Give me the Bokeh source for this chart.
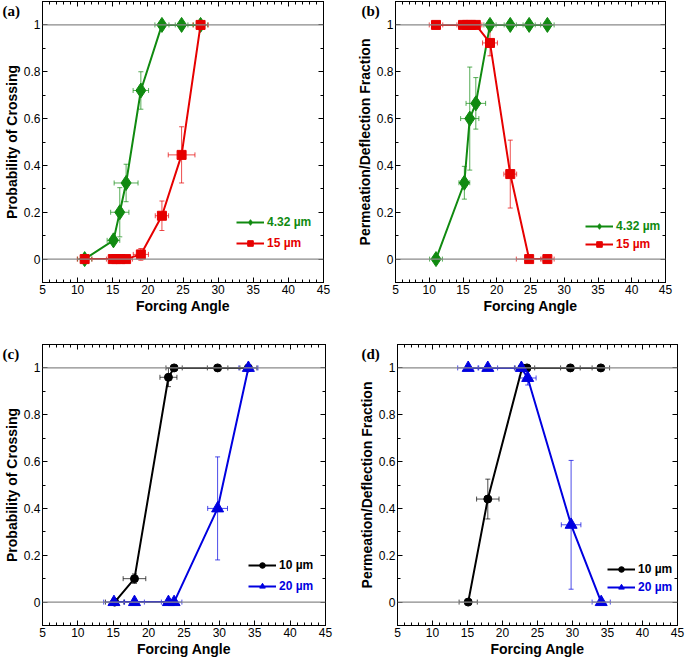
from bokeh.plotting import figure
from bokeh.models import (ColumnDataSource, Whisker, TeeHead, Span, Label, Legend,
                          LegendItem, LinearAxis, FixedTicker, Range1d)
from bokeh.layouts import column, row
from bokeh.embed import file_html
from bokeh.resources import INLINE

# ---------------- data ----------------
X_RANGE = (5, 45)
Y_RANGE = (-0.1, 1.1)
X_TICKS = [5, 10, 15, 20, 25, 30, 35, 40, 45]
X_MINOR = list(range(5, 46))
Y_TICKS = [0, 0.2, 0.4, 0.6, 0.8, 1]
Y_TICK_LABELS = ["0", "0.2", "0.4", "0.6", "0.8", "1"]
Y_MINOR = [-0.1, 0, 0.1, 0.2, 0.3, 0.4, 0.5, 0.6, 0.7, 0.8, 0.9, 1.0, 1.1]
REF_LINES = [0, 1]
X_LABEL = "Forcing Angle"

# panel (a) Probability of Crossing
a_green_x = [11.0, 15.1, 16.0, 16.9, 19.0, 22.0, 24.8, 27.5]
a_green_y = [0.0, 0.08, 0.20, 0.325, 0.72, 1.0, 1.0, 1.0]
a_green_xe = [1.0, 0.9, 1.3, 1.7, 1.1, 1.0, 0.9, 1.0]
a_green_ye = [0.0, 0.015, 0.105, 0.08, 0.08, 0.0, 0.0, 0.0]
a_red_x = [11.0, 15.0, 15.5, 16.1, 16.9, 19.0, 22.0, 24.8, 27.5]
a_red_y = [0.0, 0.0, 0.0, 0.0, 0.0, 0.02, 0.185, 0.445, 1.0]
a_red_xe = [1.05, 0.9, 0.9, 1.0, 0.9, 1.08, 0.95, 1.9, 1.1]
a_red_ye = [0.0, 0.0, 0.0, 0.0, 0.0, 0.025, 0.063, 0.12, 0.0]

# panel (b) Permeation/Deflection Fraction
b_green_x = [11.0, 15.2, 16.0, 16.9, 19.0, 22.0, 24.8, 27.5]
b_green_y = [0.0, 0.326, 0.60, 0.665, 1.0, 1.0, 1.0, 1.0]
b_green_xe = [0.95, 0.8, 1.35, 1.45, 0.9, 0.9, 0.9, 1.0]
b_green_ye = [0.0, 0.07, 0.22, 0.11, 0.0, 0.0, 0.0, 0.0]
b_red_x = [11.0, 15.0, 15.6, 16.2, 16.9, 19.0, 22.0, 24.8, 27.5]
b_red_y = [1.0, 1.0, 1.0, 1.0, 1.0, 0.923, 0.363, 0.0, 0.0]
b_red_xe = [1.0, 0.9, 0.9, 1.0, 0.9, 1.1, 0.95, 1.9, 1.0]
b_red_ye = [0.0, 0.0, 0.0, 0.0, 0.0, 0.055, 0.145, 0.0, 0.0]

# panel (c) Probability of Crossing
c_black_x = [15.2, 18.0, 22.8, 23.6, 29.75, 34.1]
c_black_y = [0.0, 0.10, 0.96, 1.0, 1.0, 1.0]
c_black_xe = [1.3, 1.6, 1.2, 1.15, 1.45, 1.2]
c_black_ye = [0.0, 0.02, 0.04, 0.0, 0.0, 0.0]
c_blue_x = [15.1, 18.0, 22.8, 23.6, 29.75, 34.1]
c_blue_y = [0.0, 0.0, 0.0, 0.0, 0.40, 1.0]
c_blue_xe = [1.45, 1.4, 1.0, 1.1, 1.4, 1.35]
c_blue_ye = [0.0, 0.0, 0.0, 0.0, 0.22, 0.0]

# panel (d) Permeation/Deflection Fraction
d_black_x = [15.1, 17.9, 22.8, 23.5, 29.7, 34.05]
d_black_y = [0.0, 0.44, 1.0, 1.0, 1.0, 1.0]
d_black_xe = [1.3, 1.6, 1.0, 1.1, 1.4, 1.25]
d_black_ye = [0.0, 0.085, 0.0, 0.0, 0.0, 0.0]
d_blue_x = [15.1, 17.9, 22.7, 23.6, 29.8, 34.1]
d_blue_y = [1.0, 1.0, 1.0, 0.957, 0.33, 0.0]
d_blue_xe = [1.5, 1.4, 1.0, 1.2, 1.4, 1.3]
d_blue_ye = [0.0, 0.0, 0.0, 0.03, 0.275, 0.0]

GREEN = "#108a10"
RED = "#e60000"
BLACK = "#000000"
BLUE = "#0000e0"

FONT = "Liberation Sans"
SERIF = "Liberation Serif"


def series(x, y, xe, ye, color, marker, size, label):
    return dict(x=x, y=y, xe=xe, ye=ye, color=color, marker=marker,
                size=size, label=label)


def make_panel(tag, ylabel, s1, s2, width, height, bl, br, bt, bb,
               leg_x, leg_y1, leg_y2, tag_dx, tag_side):
    p = figure(width=width, height=height,
               x_range=Range1d(*X_RANGE), y_range=Range1d(*Y_RANGE),
               output_backend="svg", toolbar_location=None,
               min_border_left=bl, min_border_right=br,
               min_border_top=bt, min_border_bottom=bb,
               background_fill_color="white", border_fill_color="white")
    p.xgrid.visible = False
    p.ygrid.visible = False
    p.outline_line_color = "black"
    p.outline_line_width = 1

    def style(ax, show_labels):
        ax.axis_line_color = "black"
        ax.major_tick_in = 5
        ax.major_tick_out = 0
        ax.minor_tick_in = 3
        ax.minor_tick_out = 0
        ax.major_tick_line_color = "black"
        ax.minor_tick_line_color = "black"
        ax.major_label_text_font = FONT
        ax.major_label_text_font_size = "12px"
        ax.major_label_text_color = "black"
        ax.major_label_standoff = 2 if show_labels else 0
        ax.axis_label_text_font = FONT
        ax.axis_label_text_font_style = "bold"
        ax.axis_label_text_font_size = "14px"
        ax.axis_label_text_color = "black"
        ax.axis_label_standoff = 1

    xt = FixedTicker(ticks=X_TICKS, minor_ticks=X_MINOR)
    yt = FixedTicker(ticks=Y_TICKS, minor_ticks=Y_MINOR)
    p.xaxis.ticker = xt
    p.yaxis.ticker = yt
    p.yaxis.major_label_overrides = {t: l for t, l in zip(Y_TICKS, Y_TICK_LABELS)}
    p.xaxis.axis_label = X_LABEL
    p.yaxis.axis_label = ylabel
    style(p.xaxis[0], True)
    style(p.yaxis[0], True)

    top = LinearAxis(ticker=xt)
    top.major_label_overrides = {t: "" for t in X_TICKS}
    style(top, False)
    top.major_label_text_font_size = "0px"
    p.add_layout(top, "above")
    right = LinearAxis(ticker=yt)
    right.major_label_overrides = {t: "" for t in Y_TICKS}
    style(right, False)
    right.major_label_text_font_size = "0px"
    p.add_layout(right, "right")

    for v in REF_LINES:
        p.add_layout(Span(location=v, dimension="width", line_color="#8a8a8a",
                          line_width=1.2))

    legends = []
    for s, ly in ((s1, leg_y1), (s2, leg_y2)):
        src = ColumnDataSource(dict(
            x=s["x"], y=s["y"],
            xlo=[a - b for a, b in zip(s["x"], s["xe"])],
            xhi=[a + b for a, b in zip(s["x"], s["xe"])],
        ))
        vidx = [i for i, e in enumerate(s["ye"]) if e > 0]
        vsrc = ColumnDataSource(dict(
            x=[s["x"][i] for i in vidx],
            ylo=[s["y"][i] - s["ye"][i] for i in vidx],
            yhi=[s["y"][i] + s["ye"][i] for i in vidx],
        ))
        head = dict(size=5, line_color=s["color"], line_alpha=0.7)
        hw = Whisker(source=src, base="y", lower="xlo", upper="xhi", dimension="width",
                     line_color=s["color"], line_alpha=0.7, line_width=1,
                     upper_head=TeeHead(**head), lower_head=TeeHead(**head))
        vw = Whisker(source=vsrc, base="x", lower="ylo", upper="yhi", dimension="height",
                     line_color=s["color"], line_alpha=0.7, line_width=1,
                     upper_head=TeeHead(**head), lower_head=TeeHead(**head))
        p.add_layout(hw)
        p.add_layout(vw)
        lr = p.line("x", "y", source=src, line_color=s["color"], line_width=2)
        sr = p.scatter("x", "y", source=src, marker=s["marker"], size=s["size"],
                       fill_color=s["color"], line_color=s["color"])
        leg = Legend(items=[LegendItem(label=s["label"], renderers=[lr, sr])],
                     location=(leg_x, ly), border_line_color=None,
                     background_fill_alpha=0, padding=0, margin=0, spacing=0,
                     glyph_width=28, glyph_height=14, label_height=14,
                     label_standoff=3, label_text_color=s["color"],
                     label_text_font=FONT, label_text_font_style="bold",
                     label_text_font_size="12px", label_text_baseline="middle")
        legends.append(leg)
    for leg in legends:
        p.add_layout(leg)

    # panel tag: a Label in a side panel (side-panel annotations are not clipped by
    # the frame); the side is chosen where the border already has spare room
    p.add_layout(Label(x=X_RANGE[0], y=Y_RANGE[1], x_offset=tag_dx, y_offset=-1,
                       text=tag, text_font=SERIF, text_font_style="bold",
                       text_font_size="15px", text_color="black",
                       text_baseline="top", text_align="left"), tag_side)
    return p


sa1 = series(a_green_x, a_green_y, a_green_xe, a_green_ye, GREEN, "diamond", 15, "4.32 µm")
sa2 = series(a_red_x, a_red_y, a_red_xe, a_red_ye, RED, "square", 9, "15 µm")
sb1 = series(b_green_x, b_green_y, b_green_xe, b_green_ye, GREEN, "diamond", 15, "4.32 µm")
sb2 = series(b_red_x, b_red_y, b_red_xe, b_red_ye, RED, "square", 9, "15 µm")
sc1 = series(c_black_x, c_black_y, c_black_xe, c_black_ye, BLACK, "circle", 8, "10 µm")
sc2 = series(c_blue_x, c_blue_y, c_blue_xe, c_blue_ye, BLUE, "triangle", 12, "20 µm")
sd1 = series(d_black_x, d_black_y, d_black_xe, d_black_ye, BLACK, "circle", 8, "10 µm")
sd2 = series(d_blue_x, d_blue_y, d_blue_xe, d_blue_ye, BLUE, "triangle", 12, "20 µm")

pa = make_panel("(a)", "Probability of Crossing", sa1, sa2, 343, 322, 42, 20, 1, 40,
                194, 53, 32, -40, "right")
pb = make_panel("(b)", "Permeation/Deflection Fraction", sb1, sb2, 342, 322, 52, 20, 1, 40,
                190, 49, 31, -34, "right")
pc = make_panel("(c)", "Probability of Crossing", sc1, sc2, 343, 338, 42, 18, 22, 35,
                206, 53, 32, -40, "above")
pd = make_panel("(d)", "Permeation/Deflection Fraction", sd1, sd2, 342, 338, 54, 8, 22, 35,
                210, 49, 31, -36, "above")

layout = column(row(pa, pb), row(pc, pd))
open("out.html", "w").write(file_html(layout, INLINE))
